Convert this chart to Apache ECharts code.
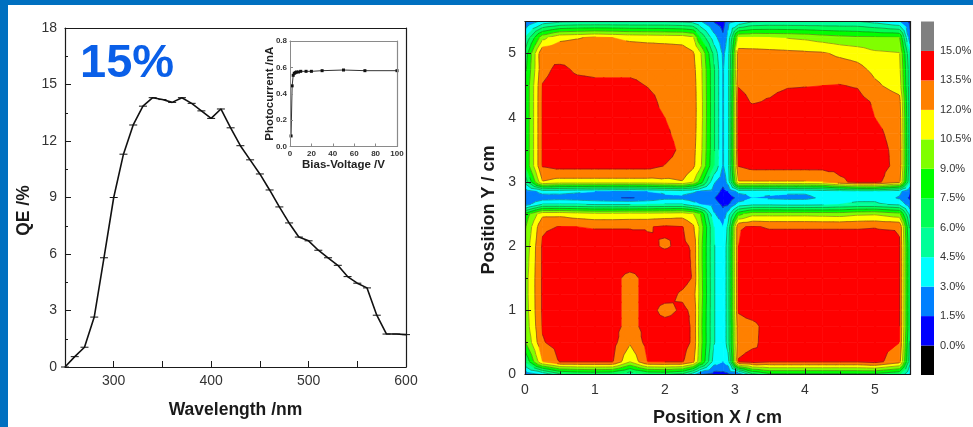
<!DOCTYPE html>
<html><head><meta charset="utf-8">
<style>html,body{margin:0;padding:0;background:#fff}#c{width:973px;height:427px}</style>
<script src="https://cdn.jsdelivr.net/npm/echarts@6/dist/echarts.min.js"></script>
</head><body><div id="c"></div>
<script>
// QE spectrum
const wavelengths=[250,260,270,280,290,300,310,320,330,340,350,360,370,380,390,400,410,420,430,440,450,460,470,480,490,500,510,520,530,540,550,560,570,580,590,600];
const qeValues=[0,0.55,1.05,2.65,5.8,9,11.3,12.85,13.85,14.3,14.2,14.05,14.3,14,13.6,13.2,13.7,12.7,11.75,11,10.25,9.4,8.5,7.65,6.9,6.7,6.2,5.8,5.4,4.8,4.45,4.2,2.75,1.75,1.75,1.72];
// Inset photocurrent
const biasVoltage=[1,2,3,4,5,6,8,10,15,20,30,50,70,100];
const photoCurrent=[0.08,0.46,0.54,0.555,0.56,0.565,0.565,0.57,0.57,0.57,0.575,0.58,0.575,0.575];
// QE map measurement grid (cm, %)
const posX=[0,.25,.5,.75,1,1.25,1.5,1.75,2,2.25,2.4,2.5,2.7,2.83,2.9,3.05,3.25,3.5,3.75,4,4.25,4.5,4.75,5,5.35,5.5];
const posY=[5.5,5.25,5,4.75,4.5,4.25,4,3.75,3.5,3.25,3,2.85,2.75,2.65,2.5,2.3,2,1.75,1.5,1.25,1,.75,.5,.2,0];
const qeMap=[
[1.5,3.5,4.2,4.4,4.4,4.4,4.4,4.4,4.4,4.2,4,3.2,1.4,0.8,2.5,3.2,4.4,4.6,4.6,4.6,4.6,4.6,4.6,4,3,1],
[4.5,10,11.7,11.9,12.2,12,11.7,11.6,11.5,11.4,10.8,7.5,3.6,1.8,3.4,10.5,10.6,10.5,10.4,10.2,9.8,9.5,9.3,9.2,9.1,2],
[6.5,13.4,12.9,13,13,13,12.9,12.8,12.8,12.7,12.2,10.9,5.6,2.7,3.8,12.7,12.6,12.5,12.4,12.3,12.2,11.7,11.4,10.8,10.6,4.5],
[7,13.2,13.8,13.3,13.2,13.2,13.2,13.1,13,12.8,12.4,11.2,6.2,2.9,3.9,13,13.1,13.1,13.1,13.1,13,12.9,12.5,11.6,10.9,5],
[7.5,13.55,14,13.9,13.8,13.8,13.8,13.45,13,12.8,12.5,11.3,6.2,2.9,3.9,13.45,13.2,13.2,13.4,13.45,13.5,13.55,13.4,12.3,11.3,5],
[7.5,13.6,14.2,14.2,14.2,14.2,14.2,14,13.1,12.9,12.5,11.4,6.2,2.9,3.9,13.9,13.4,13.6,14,14,14,14,14,13.3,12.5,5],
[7.5,13.6,14.2,14.2,14.2,14.2,14.2,14.1,13.5,13,12.5,11.4,6.2,2.9,3.9,14,14.2,14.2,14.2,14.2,14.2,14.2,14.2,13.5,12.9,5],
[7.5,13.6,14.2,14.2,14.2,14.2,14.2,14.2,13.7,13.1,12.5,11.3,6.2,2.9,3.9,14,14.2,14.2,14.2,14.2,14.2,14.2,14.2,13.8,13,5],
[7.5,13.6,14.2,14.2,14.2,14.2,14.2,14.2,14,13.2,12.4,11.2,6.2,2.9,3.9,14,14.2,14.2,14.2,14.2,14.2,14.2,14.2,14,13.1,5],
[7.5,13.6,14,14,14,14,14,14,13.45,13,12.3,11,6,2.9,3.9,13.55,14,14,14,14,14,14,14,14.1,13.1,5],
[5,11.9,11.4,11.4,11.4,11.4,11.4,11.4,11.6,11.9,10.7,8.5,3.2,2,3.5,11.9,11.9,11.9,11.9,11.9,12,13.2,13.9,13.9,12.4,4.5],
[2,3.5,3.4,3.2,3,2.9,2.8,3,3.3,3.5,3.2,2.8,2.4,1,1.5,3.4,3.4,3.3,3.2,3.2,3.5,4,4.4,4.4,3.4,1.5],
[1.5,2.2,2.4,2.2,1.9,1.6,1.4,1.8,2.6,2.6,2.2,2,1.6,0.5,0.6,2,3,2.8,2.7,2.7,3.2,3.9,4.1,4.1,2.8,1.2],
[2.2,4.6,4.6,4.6,4.4,4.4,4.4,4.5,4.6,4.6,3.6,3,2.2,1.2,1.3,3.6,4.2,4.2,4.1,4.1,4.2,4.5,4.8,4.8,4.2,2],
[8,11.6,11.6,11.2,10.9,10.9,11,11,11.1,11.3,10.6,9.2,3.2,2,3.6,8.5,10,10,10,10,9.9,9.8,10.2,10.3,9.5,4],
[8.8,13.3,13.55,13.5,13.4,13.4,13.4,13.4,13.7,13.55,12.3,10.2,4.5,3,4.8,13.4,13.6,13.4,13.4,13.4,13.4,13.4,13.4,13.45,13.4,5.5],
[9.4,13.7,14.3,14.3,14.3,14.3,14.3,13.8,13.35,13.8,13.3,9.8,4.6,3.4,5.2,13.5,14.2,14.2,14.2,14.2,14.2,14.2,14.2,14.2,13.6,6],
[9.6,13.7,14.3,14.3,14.3,14.3,14.3,14.2,14.2,14.2,13.3,9.8,4.6,3.4,5.2,13.55,14.2,14.2,14.2,14.2,14.2,14.2,14.2,14.2,13.6,6],
[9.8,13.7,14.2,14.2,14.2,14,13,14,14.2,14,13.4,9.9,4.6,3.4,5.2,13.55,14.2,14.2,14.2,14.2,14.2,14.2,14.2,14.2,13.6,6],
[9.8,13.7,14.2,14.2,14.2,14,13,14,14,13.3,12.8,10,4.6,3.4,5.2,13.55,14.2,14.2,14.2,14.2,14.2,14.2,14.2,14.2,13.6,6],
[9.7,13.7,14.2,14.2,14.2,14,13,14,13.1,13.7,13.3,9.8,4.6,3.4,5.2,13.6,14,14.2,14.2,14.2,14.2,14.2,14.2,14.2,13.6,6],
[9.5,13.6,14.2,14.2,14.2,14,13,14,14,14,13.3,9.7,4.6,3.4,5.2,13.1,13.2,14,14.2,14.2,14.2,14.2,14.2,14.2,13.6,6],
[8.8,13.4,14,14,14,14,12.2,14,14,14,13.3,9.8,4.6,3.4,5.2,13,13.25,14,14.2,14.2,14.2,14.2,14.2,14,13.5,5.5],
[6,12,13.6,13.6,13.6,13.6,10.6,13.5,13.6,13.6,12.5,9.5,3.8,3,3.8,13.6,14,13.6,13.6,13.6,13.6,13.6,13.6,14,12.6,5],
[1.8,3.2,5.5,6,6.2,6,4.8,6,6.2,5.5,3.5,1.6,0.8,1,1.2,1.6,5.5,7,7,7,7,7,7,7,6,2.8]
];
// Contour levels and colours (one colour per band, lowest first)
const bandLow=[-1.5,0,1.5,3,4.5,6,7.5,9,10.5,12,13.5,15];
const bandColor=['#000000','#0000ff','#0080ff','#00ffff','#00ff99','#00ff55','#00ff00','#80ff00','#ffff00','#ff8000','#ff0000','#808080'];
const contourLevels=[0,1.5,3,4.5,6,7.5,9,10.5,12,13.5,15];

const FONT='"Liberation Sans",Arial,sans-serif';
const TXT='#333';
const LINE='#1a1a1a';

function clip(poly,level,keepAbove){
  const out=[];
  for(let i=0;i<poly.length;i++){
    const a=poly[i],b=poly[(i+1)%poly.length];
    const ia=keepAbove?a[2]>=level:a[2]<=level;
    const ib=keepAbove?b[2]>=level:b[2]<=level;
    if(ia)out.push(a);
    if(ia!==ib){
      const t=(level-a[2])/(b[2]-a[2]);
      out.push([a[0]+(b[0]-a[0])*t,a[1]+(b[1]-a[1])*t,level]);
    }
  }
  return out;
}
function polyPath(p){
  return 'M'+p.map(q=>q[0].toFixed(2)+' '+q[1].toFixed(2)).join('L')+'Z';
}
function renderCell(params,api){
  const i=api.value(3),j=api.value(4);
  const corner=(a,b)=>{const c=api.coord([posX[a],posY[b]]);return [c[0],c[1],qeMap[b][a]];};
  const A=corner(i,j),B=corner(i+1,j),C=corner(i+1,j+1),D=corner(i,j+1);
  const M=[(A[0]+B[0]+C[0]+D[0])/4,(A[1]+B[1]+C[1]+D[1])/4,(A[2]+B[2]+C[2]+D[2])/4];
  const tris=[[A,B,M],[B,C,M],[C,D,M],[D,A,M]];
  const children=[];
  bandLow.forEach((lo,k)=>{
    const hi=lo+1.5;let d='';
    tris.forEach(t=>{
      let p=clip(t,lo,true);
      if(p.length>2)p=clip(p,hi,false);
      if(p.length>2)d+=polyPath(p);
    });
    if(d)children.push({type:'path',shape:{pathData:d},style:{fill:bandColor[k],stroke:bandColor[k],lineWidth:.6}});
  });
  let lines='';
  contourLevels.forEach(l=>{
    tris.forEach(t=>{
      const pts=[];
      for(let e=0;e<3;e++){
        const a=t[e],b=t[(e+1)%3];
        if((a[2]-l)*(b[2]-l)<0){
          const u=(l-a[2])/(b[2]-a[2]);
          pts.push([a[0]+(b[0]-a[0])*u,a[1]+(b[1]-a[1])*u]);
        }
      }
      if(pts.length===2)lines+='M'+pts[0][0].toFixed(2)+' '+pts[0][1].toFixed(2)+'L'+pts[1][0].toFixed(2)+' '+pts[1][1].toFixed(2);
    });
  });
  if(lines)children.push({type:'path',shape:{pathData:lines},style:{fill:null,stroke:'#222',lineWidth:.6,opacity:.65}});
  return {type:'group',children};
}
const cellData=[];
for(let j=0;j<posY.length-1;j++)for(let i=0;i<posX.length-1;i++)cellData.push([posX[i],posY[j],qeMap[j][i],i,j]);
const barData=bandLow.map((lo,k)=>[0,lo,k]);

const frameAxis=(gridIndex,pos,min,max,color)=>({type:'value',gridIndex,position:pos,min,max,z:10,
  axisLine:{show:true,onZero:false,lineStyle:{color:color||LINE,width:1.2}},axisTick:{show:false},axisLabel:{show:false},splitLine:{show:false}});
const mainAxis=(o)=>Object.assign({type:'value',z:10,splitLine:{show:false},
  axisLine:{show:true,onZero:false,lineStyle:{color:LINE,width:1.2}},
  axisTick:{show:true,inside:true,length:6,lineStyle:{color:LINE,width:1}},
  minorTick:{show:true,splitNumber:2,length:3,lineStyle:{color:LINE,width:1}},
  nameLocation:'middle',nameTextStyle:{fontFamily:FONT,fontWeight:'bold',fontSize:18,color:'#1a1a1a'}},o);
const insetAxis=(o)=>Object.assign({type:'value',z:10,splitLine:{show:false},
  axisLine:{show:true,onZero:false,lineStyle:{color:'#8a8a8a',width:1}},
  axisTick:{show:true,inside:true,length:3,lineStyle:{color:'#8a8a8a'}},
  nameLocation:'middle',nameTextStyle:{fontFamily:FONT,fontWeight:'bold',fontSize:11.5,color:'#222'}},o);
const lbl=(o)=>Object.assign({fontFamily:FONT,fontSize:14,color:TXT},o);
const intLabel=v=>Number.isInteger(v)?String(v):'';

const option={
  animation:false,
  backgroundColor:'#fff',
  grid:[
    {left:65,top:28,width:341,height:339,outerBoundsMode:'none'},
    {left:290,top:41,width:107,height:105.5,outerBoundsMode:'none'},
    {left:525,top:21.5,width:385,height:353,outerBoundsMode:'none'},
    {left:921,top:21.5,width:13,height:353.5,outerBoundsMode:'none'}
  ],
  xAxis:[
    mainAxis({gridIndex:0,min:250,max:600,interval:50,name:'Wavelength /nm',nameGap:34,
      axisLabel:lbl({margin:7,formatter:v=>v%100===0?String(v):''}),minorTick:{show:false},
      nameTextStyle:{fontFamily:FONT,fontWeight:'bold',fontSize:17.5,color:'#1a1a1a'}}),
    frameAxis(0,'top',250,600),
    insetAxis({gridIndex:1,min:0,max:100,interval:20,name:'Bias-Voltage /V',nameGap:12,
      axisLabel:lbl({fontSize:8,fontWeight:'bold',margin:3})}),
    frameAxis(1,'top',0,100,'#8a8a8a'),
    mainAxis({gridIndex:2,min:0,max:5.5,interval:1,name:'Position X / cm',nameGap:35,
      axisLabel:lbl({margin:9,formatter:intLabel})}),
    frameAxis(2,'top',0,5.5),
    {type:'value',gridIndex:3,min:0,max:1,show:false}
  ],
  yAxis:[
    mainAxis({gridIndex:0,min:0,max:18,interval:3,name:'QE /%',nameGap:32,
      axisLabel:lbl({margin:8}),
      nameTextStyle:{fontFamily:FONT,fontWeight:'bold',fontSize:17.5,color:'#1a1a1a',padding:[0,26,0,0]}}),
    frameAxis(0,'right',0,18),
    insetAxis({gridIndex:1,min:0,max:0.8,interval:0.2,name:'Photocurrent /nA',nameGap:14,nameMoveOverlap:false,
      axisLabel:lbl({fontSize:8,fontWeight:'bold',margin:3,formatter:v=>v.toFixed(1)})}),
    frameAxis(1,'right',0,0.8,'#8a8a8a'),
    mainAxis({gridIndex:2,min:0,max:5.5,interval:1,name:'Position Y / cm',nameGap:27,
      axisLabel:lbl({margin:9,formatter:intLabel}),
      nameTextStyle:{fontFamily:FONT,fontWeight:'bold',fontSize:18,color:'#1a1a1a',padding:[0,24,0,0]}}),
    frameAxis(2,'right',0,5.5),
    {type:'value',gridIndex:3,position:'right',min:-1.5,max:16.5,interval:1.5,z:10,
      axisLine:{show:false},axisTick:{show:false},splitLine:{show:false},
      axisLabel:lbl({fontSize:11,margin:6,formatter:v=>(v>=0&&v<=15)?v.toFixed(1)+'%':''})}
  ],
  series:[
    {type:'line',xAxisIndex:0,yAxisIndex:0,data:wavelengths.map((w,i)=>[w,qeValues[i]]),
      symbol:'rect',symbolSize:[8,1],showSymbol:true,itemStyle:{color:'#111'},lineStyle:{color:'#111',width:1.6},z:3},
    {type:'line',xAxisIndex:2,yAxisIndex:2,data:biasVoltage.map((v,i)=>[v,photoCurrent[i]]),
      symbol:'rect',symbolSize:3,showSymbol:true,itemStyle:{color:'#111'},lineStyle:{color:'#333',width:1},z:3},
    {type:'custom',xAxisIndex:4,yAxisIndex:4,data:cellData,renderItem:renderCell,encode:{x:0,y:1},clip:true,silent:true,z:2},
    {type:'custom',xAxisIndex:6,yAxisIndex:6,data:barData,encode:{x:0,y:1},silent:true,z:2,
      renderItem:(p,api)=>{
        const lo=api.value(1),k=api.value(2);
        const a=api.coord([0,lo+1.5]),b=api.coord([1,lo]);
        return {type:'rect',shape:{x:a[0],y:a[1],width:b[0]-a[0],height:b[1]-a[1]},style:{fill:bandColor[k]}};
      }}
  ],
  graphic:[
    {type:'rect',silent:true,z:20,shape:{x:0,y:0,width:973,height:5},style:{fill:'#0070c0'}},
    {type:'rect',silent:true,z:20,shape:{x:0,y:0,width:8,height:427},style:{fill:'#0070c0'}},
    {type:'text',silent:true,z:20,x:80,y:41,style:{text:'15%',fill:'#0a5fe8',font:'bold 47px "Liberation Sans",Arial,sans-serif'}}
  ]
};
echarts.init(document.getElementById('c'),null,{renderer:'canvas'}).setOption(option);
</script></body></html>
